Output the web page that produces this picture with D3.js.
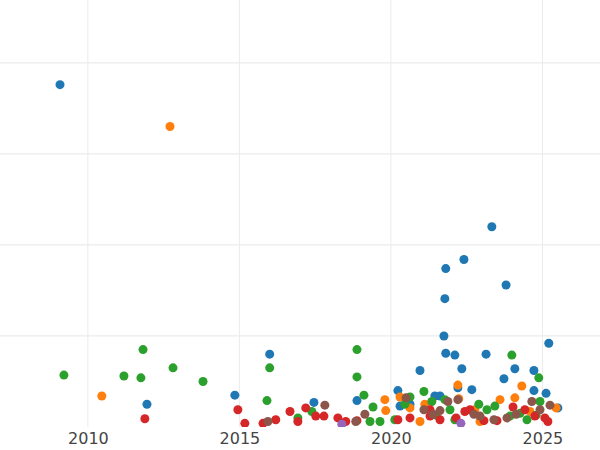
<!DOCTYPE html>
<html><head><meta charset="utf-8">
<script src="https://cdn.jsdelivr.net/npm/d3@7"></script>
<style>body{margin:0;background:#fff}</style></head>
<body><svg id="c" width="600" height="450"></svg>
<script>
const xTicks=[2010,2015,2020,2025];
const yTicks=[100,200,300,400];
const seriesNames=["blue","orange","green","red","brown","purple"];
const colors=["#1f77b4","#ff7f0e","#2ca02c","#d62728","#8c564b","#9467bd"];
const blueYears=[2009.08,2011.95,2014.85,2016.0,2017.46,2018.88,2020.23,2020.3,2020.63,2020.96,2021.45,2021.62,2021.75,2021.78,2021.81,2021.81,2022.11,2022.21,2022.34,2022.41,2022.67,2023.14,2023.33,2023.73,2023.8,2024.09,2024.72,2024.72,2025.12,2025.21,2025.51];
const blueValues=[376,25,35,80,27,29,40,23,25,62,34,34,100,141,174,81,79,43,64,184,41,80,220,53,156,64,62,40,37,92,21];
const orangeYears=[2012.71,2010.46,2019.8,2019.83,2020.3,2020.63,2021.12,2022.21,2022.24,2022.77,2023.6,2024.09,2024.32,2024.59,2025.45,2020.96,2022.94];
const orangeValues=[330,34,30,18,33,21,25,46,31,19,30,32,45,17,21,6,6];
const greenYears=[2009.21,2011.19,2011.75,2011.82,2012.81,2013.8,2015.91,2016.0,2016.93,2017.39,2018.88,2018.88,2019.11,2019.41,2019.31,2019.64,2020.13,2020.46,2020.63,2021.09,2021.35,2021.49,2021.78,2021.95,2022.11,2022.9,2023.17,2023.43,2023.99,2023.93,2024.26,2024.88,2024.92,2024.79,2024.49];
const greenValues=[57,56,54,85,65,50,29,65,10,17,85,55,35,22,6,6,8,25,33,39,28,13,30,19,8,25,19,23,79,12,15,54,28,13,8];
const redYears=[2011.88,2014.95,2015.18,2015.78,2016.2,2016.67,2016.93,2017.19,2017.52,2017.79,2018.25,2018.51,2018.88,2020.23,2020.63,2021.29,2021.29,2021.62,2022.15,2022.44,2022.61,2023.07,2023.5,2024.03,2024.42,2024.75,2025.08,2025.18];
const redValues=[9,19,4,4,8,17,6,21,12,12,10,6,7,8,10,19,12,8,10,17,19,7,7,22,19,12,10,6];
const brownYears=[2015.94,2017.82,2018.84,2019.14,2020.5,2021.09,2021.39,2021.62,2021.88,2022.21,2022.74,2022.94,2023.4,2023.83,2024.13,2024.65,2024.92,2025.25];
const brownValues=[6,24,6,14,32,19,14,18,28,30,14,12,8,10,14,28,19,24];
const purpleYears=[2018.38,2022.31];
const purpleValues=[3,4];

const series=[[blueYears,blueValues],[orangeYears,orangeValues],[greenYears,greenValues],[redYears,redValues],[brownYears,brownValues],[purpleYears,purpleValues]];
const W=600,H=450,bottom=427;
const svg=d3.select("#c");
const x=d3.scaleLinear().domain([2007.1,2026.9]).range([0,W]);
const y=d3.scaleLinear().domain([0,469]).range([bottom,0]);
svg.append("defs").append("clipPath").attr("id","clip").append("rect").attr("x",0).attr("y",0).attr("width",W).attr("height",bottom);
const g=svg.append("g");
g.selectAll(".vg").data(xTicks).join("line").attr("x1",d=>x(d)).attr("x2",d=>x(d)).attr("y1",0).attr("y2",bottom).attr("stroke","#ebebeb").attr("stroke-width",1);
g.selectAll(".hg").data(yTicks).join("line").attr("y1",d=>y(d)).attr("y2",d=>y(d)).attr("x1",0).attr("x2",W).attr("stroke","#ebebeb").attr("stroke-width",1.2);
const pts=svg.append("g").attr("clip-path","url(#clip)");
series.forEach((s,i)=>{
  const data=s[0].map((yr,j)=>[yr,s[1][j]]);
  pts.selectAll(null).data(data).join("circle").attr("cx",d=>x(d[0])).attr("cy",d=>y(d[1])).attr("r",4.5).attr("fill",colors[i]);
});
const ax=svg.append("g").attr("transform",`translate(0,${bottom})`).call(d3.axisBottom(x).tickValues(xTicks).tickFormat(d3.format("d")).tickSize(0).tickPadding(6));
ax.select(".domain").remove();
ax.selectAll("text").attr("font-family","DejaVu Sans").attr("font-size",16).attr("fill","#444");
</script></body></html>
